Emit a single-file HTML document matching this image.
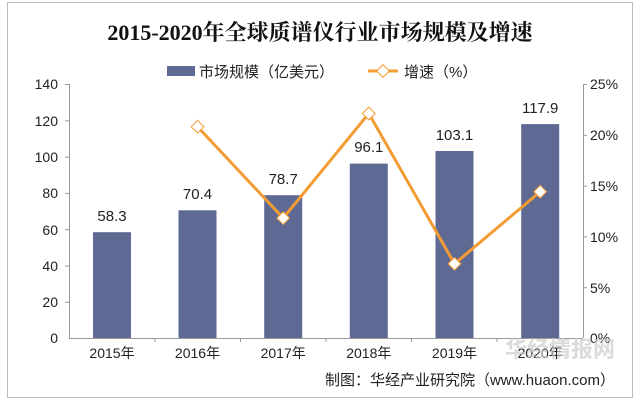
<!DOCTYPE html>
<html><head><meta charset="utf-8"><style>
html,body{margin:0;padding:0;background:#fff;}
svg{display:block;}
</style></head><body>
<svg width="640" height="405" viewBox="0 0 640 405" xmlns="http://www.w3.org/2000/svg" font-family="Liberation Sans, Noto Sans CJK SC, sans-serif">
<rect x="7.5" y="2.5" width="625" height="395" fill="#fff" stroke="#bbb" stroke-width="1"/>
<text x="320" y="40" text-anchor="middle" font-family="Liberation Serif, Noto Serif CJK SC, serif" font-weight="bold" font-size="22" fill="#111">2015-2020年全球质谱仪行业市场规模及增速</text>
<rect x="167" y="66" width="28" height="10" fill="#5f6a94"/>
<text x="199" y="77" font-size="15" fill="#222">市场规模（亿美元）</text>
<line x1="368" y1="71" x2="398" y2="71" stroke="#f39c33" stroke-width="3"/>
<rect x="378.5" y="66.5" width="9" height="9" fill="#fff" stroke="#f39c33" transform="rotate(45 383 71)"/>
<text x="404" y="77" font-size="15" fill="#222">增速（%）</text>
<g stroke="#999" stroke-width="1">
<line x1="69.5" y1="84" x2="69.5" y2="338"/>
<line x1="583.5" y1="84" x2="583.5" y2="338"/>
<line x1="69" y1="338.5" x2="583" y2="338.5"/>
<line x1="65" y1="84.5" x2="69" y2="84.5"/><line x1="65" y1="120.8" x2="69" y2="120.8"/><line x1="65" y1="157.1" x2="69" y2="157.1"/><line x1="65" y1="193.4" x2="69" y2="193.4"/><line x1="65" y1="229.7" x2="69" y2="229.7"/><line x1="65" y1="266" x2="69" y2="266"/><line x1="65" y1="302.3" x2="69" y2="302.3"/>
<line x1="583" y1="84.5" x2="587" y2="84.5"/><line x1="583" y1="135.3" x2="587" y2="135.3"/><line x1="583" y1="186.1" x2="587" y2="186.1"/><line x1="583" y1="236.9" x2="587" y2="236.9"/><line x1="583" y1="287.7" x2="587" y2="287.7"/>
<line x1="155" y1="338" x2="155" y2="342"/><line x1="240.5" y1="338" x2="240.5" y2="342"/><line x1="326" y1="338" x2="326" y2="342"/><line x1="411.5" y1="338" x2="411.5" y2="342"/><line x1="497" y1="338" x2="497" y2="342"/>
</g>
<g font-size="14" fill="#222" text-anchor="end">
<text x="58" y="89">140</text><text x="58" y="126">120</text><text x="58" y="162">100</text><text x="58" y="198">80</text><text x="58" y="235">60</text><text x="58" y="271">40</text><text x="58" y="307">20</text><text x="58" y="343">0</text>
</g>
<g font-size="14" fill="#222">
<text x="590" y="89">25%</text><text x="590" y="140">20%</text><text x="590" y="191">15%</text><text x="590" y="242">10%</text><text x="590" y="293">5%</text><text x="590" y="343">0%</text>
</g>
<g fill="#5f6a94">
<rect x="93" y="232.2" width="38" height="105.8"/>
<rect x="178.5" y="210.3" width="38" height="127.7"/>
<rect x="264.2" y="195.2" width="38" height="142.8"/>
<rect x="349.8" y="163.6" width="38" height="174.4"/>
<rect x="435.5" y="151" width="38" height="187"/>
<rect x="521.2" y="124.1" width="38" height="213.9"/>
</g>
<g font-size="15" fill="#222" text-anchor="middle">
<text x="112" y="221">58.3</text><text x="197.5" y="199">70.4</text><text x="283.2" y="184">78.7</text><text x="368.8" y="152">96.1</text><text x="454.5" y="140">103.1</text><text x="540.2" y="113">117.9</text>
</g>
<polyline points="197.5,126.7 283.2,218.1 368.8,113.5 454.5,263.8 540.2,191.7" fill="none" stroke="#f39c33" stroke-width="3"/>
<g fill="#fff" stroke="#f39c33" stroke-width="1">
<rect x="193" y="122.2" width="9" height="9" transform="rotate(45 197.5 126.7)"/>
<rect x="278.7" y="213.6" width="9" height="9" transform="rotate(45 283.2 218.1)"/>
<rect x="364.3" y="109" width="9" height="9" transform="rotate(45 368.8 113.5)"/>
<rect x="450" y="259.3" width="9" height="9" transform="rotate(45 454.5 263.8)"/>
<rect x="535.7" y="187.2" width="9" height="9" transform="rotate(45 540.2 191.7)"/>
</g>
<g font-size="14" fill="#222" text-anchor="middle">
<text x="112" y="358">2015年</text><text x="197.5" y="358">2016年</text><text x="283.2" y="358">2017年</text><text x="368.8" y="358">2018年</text><text x="454.5" y="358">2019年</text><text x="540.2" y="358">2020年</text>
</g>
<text x="505" y="357" font-size="22" font-weight="bold" fill="#ccc" opacity="0.7">华经情报网</text>
<text x="615" y="385" font-size="15" fill="#222" text-anchor="end">制图：华经产业研究院（www.huaon.com）</text>
</svg>
</body></html>
